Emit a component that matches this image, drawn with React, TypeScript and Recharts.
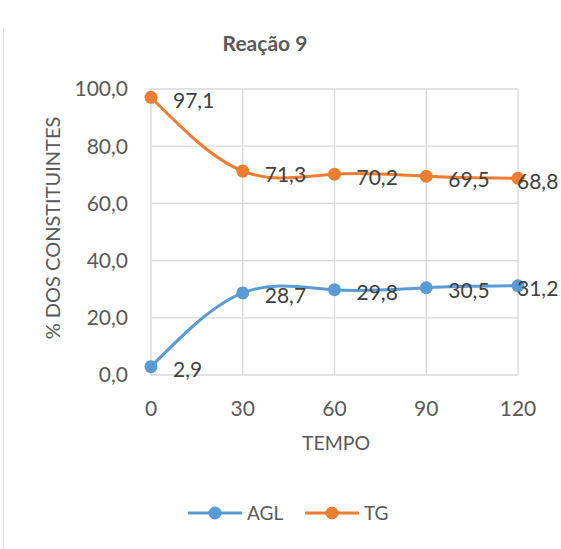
import React from "react";
import { LineChart, Line, XAxis, YAxis, CartesianGrid, Legend, LabelList } from "recharts";

const tempos = [0, 30, 60, 90, 120];
const agl = [2.9, 28.7, 29.8, 30.5, 31.2];
const tg = [97.1, 71.3, 70.2, 69.5, 68.8];
const yTicks = [0, 20, 40, 60, 80, 100];
const seriesNames = ["AGL", "TG"];
const seriesColors = ["#5B9BD5", "#ED7D31"];

const data = tempos.map((t, i) => ({ t, AGL: agl[i], TG: tg[i] }));

const FONT = "Lato, 'Liberation Sans', sans-serif";
const fmt = (v: number) => v.toFixed(1).replace(".", ",");

const DataLabel = (props: any) => {
  const { x, y, value, index } = props;
  const last = index === tempos.length - 1;
  return (
    <text x={last ? x - 1 : x + 22} y={y + 2} fontSize={21} fill="#404040" fontFamily={FONT} dominantBaseline="central">
      {fmt(Number(value))}
    </text>
  );
};

const XTick = (props: any) => {
  const { x, y, payload } = props;
  return (
    <text x={x} y={y + 32} fontSize={21} fill="#595959" fontFamily={FONT} textAnchor="middle" dominantBaseline="central">
      {payload.value}
    </text>
  );
};

const LegendContent = () => (
  <div style={{ position: "relative", width: 561, height: 30, fontFamily: FONT }}>
    {seriesNames.map((n, i) => {
      const x0 = i === 0 ? 188 : 305;
      return (
        <React.Fragment key={n}>
          <svg style={{ position: "absolute", left: x0, top: 0 }} width={56} height={30}>
            <line x1={0} y1={15} x2={54} y2={15} stroke={seriesColors[i]} strokeWidth={3} />
            <circle cx={27} cy={15} r={6.5} fill={seriesColors[i]} />
          </svg>
          <span style={{ position: "absolute", left: x0 + 59, top: 2, fontSize: 19, color: "#595959", lineHeight: "26px" }}>{n}</span>
        </React.Fragment>
      );
    })}
  </div>
);

export default function App() {
  return (
    <div style={{ position: "absolute", left: 0, top: 0, width: 561, height: 549, background: "#fff" }}>
      <div style={{ position: "absolute", left: 3, top: 28, width: 1, height: 521, background: "#d9d9d9" }} />
      <div
        style={{
          position: "absolute",
          left: 0,
          width: 530,
          top: 29,
          textAlign: "center",
          fontFamily: FONT,
          fontWeight: "bold",
          fontSize: 21,
          lineHeight: "28px",
          color: "#595959",
        }}
      >
        Reação 9
      </div>
      <LineChart width={561} height={549} data={data} margin={{ top: 89, right: 43, left: 0, bottom: 0 }}>
        <CartesianGrid stroke="#d9d9d9" strokeWidth={1.3} vertical={true} horizontal={true} />
        <XAxis
          dataKey="t"
          type="number"
          domain={[0, 120]}
          ticks={tempos}
          height={174}
          axisLine={false}
          tickLine={false}
          tickSize={0}
          tickMargin={0}
          tick={<XTick />}
          label={(p: any) => {
            const vb = p.viewBox;
            return (
              <text x={336} y={vb.y + 67} fontSize={19.5} fill="#595959" fontFamily={FONT} textAnchor="middle" dominantBaseline="central">
                TEMPO
              </text>
            );
          }}
        />
        <YAxis
          type="number"
          domain={[0, 100]}
          ticks={yTicks}
          width={151}
          axisLine={false}
          tickLine={false}
          tickSize={0}
          tickMargin={23}
          tickFormatter={(v: number) => fmt(v)}
          tick={{ fontSize: 21, fill: "#595959", fontFamily: FONT }}
          label={() => (
            <text
              x={52}
              y={228}
              transform="rotate(-90 52 228)"
              fontSize={20}
              fill="#595959"
              fontFamily={FONT}
              textAnchor="middle"
              dominantBaseline="central"
            >
              % DOS CONSTITUINTES
            </text>
          )}
        />
        <Legend
          layout="horizontal"
          verticalAlign="middle"
          align="center"
          content={<LegendContent />}
          wrapperStyle={{ position: "absolute", left: 0, top: 498, width: 561, height: 30 }}
        />
        <Line
          type="natural"
          dataKey="AGL"
          stroke={seriesColors[0]}
          strokeWidth={3}
          dot={{ r: 6.5, fill: seriesColors[0], stroke: seriesColors[0], strokeWidth: 0 }}
          isAnimationActive={false}
        >
          <LabelList dataKey="AGL" content={<DataLabel />} />
        </Line>
        <Line
          type="natural"
          dataKey="TG"
          stroke={seriesColors[1]}
          strokeWidth={3}
          dot={{ r: 6.5, fill: seriesColors[1], stroke: seriesColors[1], strokeWidth: 0 }}
          isAnimationActive={false}
        >
          <LabelList dataKey="TG" content={<DataLabel />} />
        </Line>
      </LineChart>
    </div>
  );
}
